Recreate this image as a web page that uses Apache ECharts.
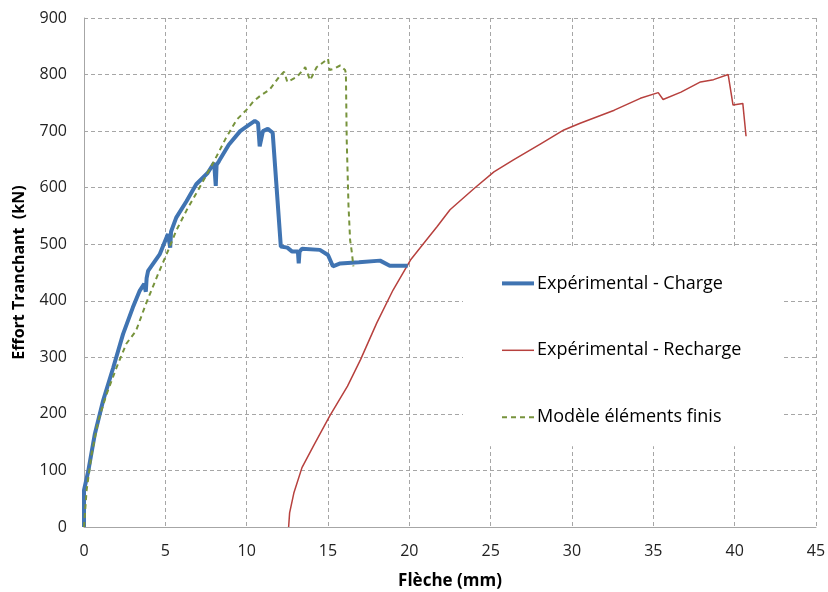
<!DOCTYPE html>
<html>
<head>
<meta charset="utf-8">
<script src="https://cdn.jsdelivr.net/npm/echarts@6/dist/echarts.min.js"></script>
<style>
  html, body { margin: 0; padding: 0; background: #fff; }
  #chart { width: 828px; height: 592px; }
</style>
</head>
<body>
<div id="chart"></div>
<script>
// Flèche (mm) / Effort tranchant (kN)
var chargeData = [
  [0, 0], [0, 65], [0.27, 100], [0.67, 165], [1.18, 224], [1.8, 282], [2.4, 341],
  [3.0, 388], [3.43, 418], [3.7, 430], [3.8, 416], [3.85, 440], [3.94, 453],
  [4.65, 482], [5.16, 518], [5.3, 494], [5.35, 522], [5.67, 547], [6.3, 576],
  [6.9, 606], [7.6, 626], [8.0, 644], [8.1, 603], [8.15, 640], [8.3, 647],
  [8.9, 676], [9.6, 700], [10.1, 710], [10.5, 718], [10.7, 714], [10.8, 673],
  [11.0, 700], [11.3, 704], [11.6, 697], [12.1, 496], [12.5, 494], [12.8, 487],
  [13.15, 487], [13.2, 466], [13.25, 487], [13.4, 492], [14.5, 490], [15.0, 481],
  [15.3, 461], [15.75, 466], [16.9, 468], [18.2, 471], [18.8, 462], [19.9, 462]
];
var rechargeData = [
  [12.58, 0], [12.64, 25], [12.9, 60], [13.4, 105], [14.1, 143], [15.1, 196],
  [16.2, 249], [17.0, 296], [18.0, 361], [19.0, 419], [20.07, 472], [20.9, 502],
  [21.7, 531], [22.5, 561], [24.0, 599], [25.2, 628], [26.4, 649], [28.1, 678],
  [29.5, 702], [30.5, 714], [32.6, 737], [34.2, 758], [35.3, 768], [35.6, 756],
  [36.7, 769], [37.9, 787], [38.7, 791], [39.6, 800], [39.9, 746], [40.5, 749],
  [40.7, 691]
];
var modelData = [
  [0, 0], [0.16, 65], [0.47, 129], [0.88, 188], [1.39, 235], [2.0, 282],
  [2.6, 324], [3.2, 347], [3.8, 394], [4.55, 447], [5.16, 488], [5.67, 524],
  [6.29, 559], [7.1, 600], [8.0, 647], [8.73, 688], [9.38, 720], [10.0, 738],
  [10.4, 752], [10.9, 764], [11.4, 773], [12.0, 796], [12.3, 805], [12.5, 787],
  [13.1, 796], [13.6, 813], [13.9, 790], [14.3, 813], [15.0, 828], [15.1, 808],
  [15.35, 810], [15.75, 816], [16.05, 808], [16.1, 802], [16.15, 685],
  [16.26, 568], [16.36, 507], [16.46, 487], [16.56, 461]
];
var seriesNames = ['Expérimental - Charge', 'Expérimental - Recharge', 'Modèle éléments finis'];
var colors = ['#4074b2', '#b7413e', '#77933c'];
var widths = [4, 1.5, 2];

var myChart = echarts.init(document.getElementById('chart'));

var option = {
  animation: false,
  textStyle: { fontFamily: 'Open Sans' },
  grid: { left: 84, right: 12, top: 18, bottom: 65, outerBoundsMode: 'none' },
  legend: {
    orient: 'vertical',
    left: 463,
    top: 247,
    itemWidth: 32,
    itemHeight: 20,
    itemGap: 48.9,
    padding: [27.4, 42, 20, 37],
    backgroundColor: '#fff',
    itemStyle: { opacity: 0 },
    textStyle: { fontSize: 18, color: '#000', fontFamily: 'Open Sans', padding: [0, 0, 0, -2] },
    data: seriesNames.map(function (n, i) {
      return { name: n, lineStyle: { width: widths[i] } };
    })
  },
  xAxis: {
    type: 'value',
    min: 0, max: 45, interval: 5,
    name: 'Flèche (mm)',
    nameLocation: 'middle',
    nameGap: 46,
    nameTextStyle: { fontSize: 17, fontWeight: 'bold', color: '#000' },
    axisLine: { lineStyle: { color: '#a6a6a6' } },
    axisTick: { show: false },
    axisLabel: { fontSize: 16, color: '#222', margin: 16 },
    splitLine: { show: true, lineStyle: { type: [4, 3], color: '#a6a6a6' } }
  },
  yAxis: {
    type: 'value',
    min: 0, max: 900, interval: 100,
    name: 'Effort Tranchant  (kN)',
    nameLocation: 'middle',
    nameGap: 57,
    nameTextStyle: { fontSize: 16, fontWeight: 'bold', color: '#000' },
    axisLine: { show: true, lineStyle: { color: '#a6a6a6' } },
    axisTick: { show: false },
    axisLabel: { fontSize: 16, color: '#222', margin: 17 },
    splitLine: { show: true, lineStyle: { type: [4, 3], color: '#a6a6a6' } }
  },
  series: [
    {
      name: seriesNames[0], type: 'line', data: chargeData,
      symbol: 'none', z: 3,
      lineStyle: { color: colors[0], width: widths[0] },
      itemStyle: { color: colors[0] }
    },
    {
      name: seriesNames[1], type: 'line', data: rechargeData,
      symbol: 'none', z: 2,
      lineStyle: { color: colors[1], width: widths[1] },
      itemStyle: { color: colors[1] }
    },
    {
      name: seriesNames[2], type: 'line', data: modelData,
      symbol: 'none', z: 4,
      lineStyle: { color: colors[2], width: widths[2], type: [5, 4] },
      itemStyle: { color: colors[2] }
    }
  ]
};

myChart.setOption(option);
</script>
</body>
</html>
